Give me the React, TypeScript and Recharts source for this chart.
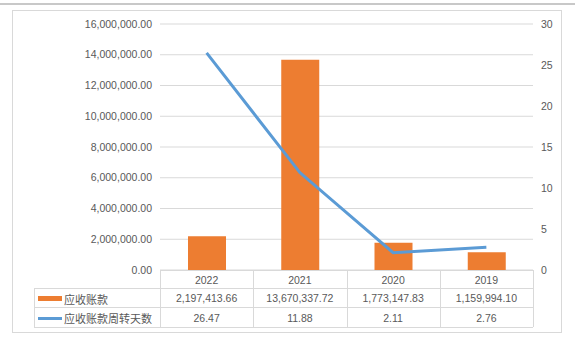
import { ComposedChart, Bar, Line, XAxis, YAxis, CartesianGrid } from 'recharts';

const categories = ['2022', '2021', '2020', '2019'];
const receivables = [2197413.66, 13670337.72, 1773147.83, 1159994.1];
const turnoverDays = [26.47, 11.88, 2.11, 2.76];
const leftTicks = [0, 2000000, 4000000, 6000000, 8000000, 10000000, 12000000, 14000000, 16000000];
const rightTicks = [0, 5, 10, 15, 20, 25, 30];
const seriesNames = ['应收账款', '应收账款周转天数'];

const ORANGE = '#ed7d31';
const BLUE = '#5b9bd5';
const GRID = '#d9d9d9';
const TEXT = '#595959';
const FONT = '"Liberation Sans", Arial, sans-serif';
const CJK = '"Noto Sans CJK SC", sans-serif';

const money = (v: number) =>
  v.toLocaleString('en-US', { minimumFractionDigits: 2, maximumFractionDigits: 2 });

const data = categories.map((c, i) => ({
  year: c,
  receivable: receivables[i],
  days: turnoverDays[i],
}));

// table geometry (aligned to the plot area 160..533)
const plotLeft = 160;
const plotRight = 533;
const tableLeft = 34;
const colW = (plotRight - plotLeft) / categories.length;
const rowTop = [270, 288, 307, 327];

function DataTable() {
  const border = `1px solid ${GRID}`;
  const cell = (left: number, top: number, w: number, h: number, content: any, key: string, extra: any = {}) => (
    <div
      key={key}
      style={{
        position: 'absolute',
        left,
        top,
        width: w,
        height: h,
        lineHeight: `${h}px`,
        textAlign: 'center',
        fontSize: 10.5,
        color: TEXT,
        fontFamily: FONT,
        whiteSpace: 'nowrap',
        ...extra,
      }}
    >
      {content}
    </div>
  );
  const lines: any[] = [];
  // horizontal lines
  lines.push(<div key="h0" style={{ position: 'absolute', left: plotLeft, top: rowTop[0], width: plotRight - plotLeft, borderTop: border }} />);
  for (let r = 1; r < rowTop.length; r++) {
    lines.push(<div key={`h${r}`} style={{ position: 'absolute', left: tableLeft, top: rowTop[r], width: plotRight - tableLeft, borderTop: border }} />);
  }
  // vertical lines
  lines.push(<div key="v-left" style={{ position: 'absolute', left: tableLeft, top: rowTop[1], height: rowTop[3] - rowTop[1], borderLeft: border }} />);
  for (let c = 0; c <= categories.length; c++) {
    lines.push(
      <div key={`v${c}`} style={{ position: 'absolute', left: plotLeft + c * colW, top: rowTop[0], height: rowTop[3] - rowTop[0], borderLeft: border }} />
    );
  }
  const cells: any[] = [];
  categories.forEach((c, i) => {
    const x = plotLeft + i * colW;
    cells.push(cell(x, rowTop[0] + 1, colW, rowTop[1] - rowTop[0], c, `c${i}`));
    cells.push(cell(x, rowTop[1] + 1, colW, rowTop[2] - rowTop[1], money(receivables[i]), `r${i}`));
    cells.push(cell(x, rowTop[2] + 1, colW, rowTop[3] - rowTop[2], turnoverDays[i].toFixed(2), `d${i}`));
  });
  const legend = (row: number, name: string, key: any, k: string) => (
    <div
      key={k}
      style={{
        position: 'absolute',
        left: tableLeft + 4,
        top: rowTop[row] + 1,
        height: rowTop[row + 1] - rowTop[row],
        display: 'flex',
        alignItems: 'center',
        fontFamily: CJK,
        fontSize: 11,
        color: TEXT,
        whiteSpace: 'nowrap',
      }}
    >
      {key}
      <span style={{ marginLeft: 2 }}>{name}</span>
    </div>
  );
  cells.push(legend(1, seriesNames[0], <span style={{ display: 'inline-block', width: 24, height: 5, background: ORANGE }} />, 'l0'));
  cells.push(legend(2, seriesNames[1], <span style={{ display: 'inline-block', width: 24, height: 3, background: BLUE }} />, 'l1'));
  return <>{lines}{cells}</>;
}

export default function App() {
  const tick = { fontSize: 10.5, fill: TEXT, fontFamily: FONT };
  return (
    <div style={{ position: 'fixed', left: 0, top: 0, width: 575, height: 341, background: '#fff' }}>
      <div style={{ position: 'absolute', left: 0, top: 3, width: 575, height: 2, background: '#c8c8c8' }} />
      <div style={{ position: 'absolute', left: 12, top: 10, width: 550, height: 323, border: `1px solid ${GRID}`, boxSizing: 'border-box' }} />
      <div style={{ position: 'absolute', left: 0, top: 0 }}>
        <ComposedChart width={575} height={341} data={data} margin={{ top: 24, right: 10, bottom: 71, left: 10 }} barCategoryGap={0}>
          <CartesianGrid vertical={false} stroke={GRID} yAxisId="left" />
          <XAxis dataKey="year" hide />
          <YAxis
            yAxisId="left"
            orientation="left"
            width={150}
            domain={[0, 16000000]}
            ticks={leftTicks}
            tickFormatter={money}
            axisLine={false}
            tickLine={false}
            tick={tick}
            interval={0}
          />
          <YAxis
            yAxisId="right"
            orientation="right"
            width={32}
            domain={[0, 30]}
            ticks={rightTicks}
            axisLine={false}
            tickLine={false}
            tick={tick}
            interval={0}
          />
          <Bar yAxisId="left" dataKey="receivable" fill={ORANGE} barSize={38} isAnimationActive={false} />
          <Line yAxisId="right" dataKey="days" type="linear" stroke={BLUE} strokeWidth={3} dot={false} isAnimationActive={false} />
        </ComposedChart>
      </div>
      <DataTable />
    </div>
  );
}
